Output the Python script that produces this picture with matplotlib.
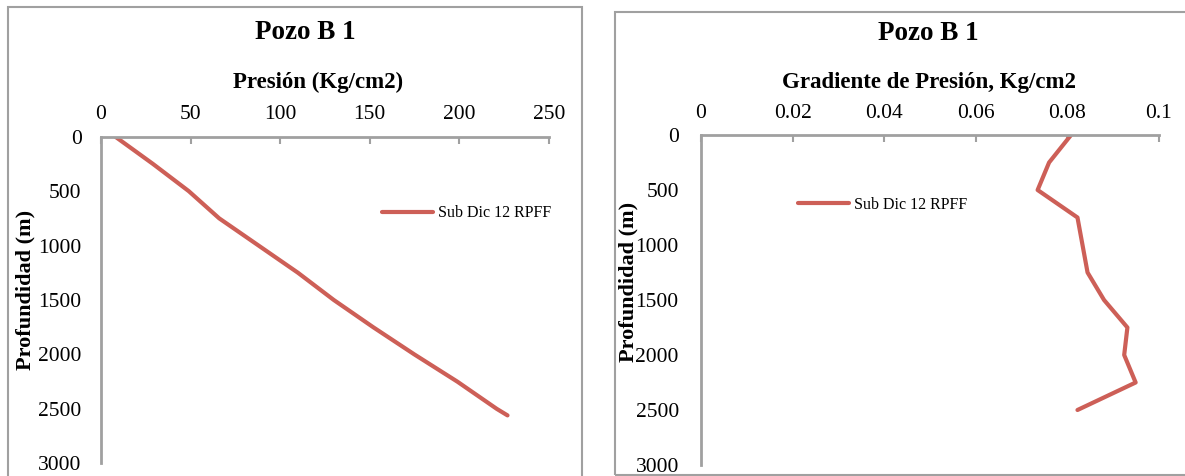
import matplotlib.pyplot as plt
from matplotlib.patches import Rectangle

# Pozo B 1 - pressure profile
depth_p = [0, 250, 500, 750, 1000, 1250, 1500, 1750, 2000, 2250, 2500, 2560]
presion = [8, 29, 49, 66, 88, 110, 130, 152, 175, 199, 221, 227]

# pressure gradient profile
depth_g = [0, 250, 500, 750, 1250, 1500, 1750, 2000, 2250, 2500]
gradiente = [0.0808, 0.0760, 0.0735, 0.0822, 0.0844, 0.0880, 0.0931, 0.0924, 0.0949, 0.0822]

serie = 'Sub Dic 12 RPFF'
titulo = 'Pozo B 1'

red = '#CD5F57'
grey = '#A0A0A0'
plt.rcParams['font.family'] = ['Liberation Serif', 'DejaVu Serif']

W, H = 1185, 476
fig = plt.figure(figsize=(W / 100, H / 100), dpi=100, facecolor='w')

# chart frames (pixel boxes converted to figure fractions)
for x0, y0, x1, y1 in [(8, 7, 582, 490), (615, 12, 1195, 475)]:
    fig.patches.append(Rectangle((x0 / W, 1 - y1 / H), (x1 - x0) / W, (y1 - y0) / H,
                                 transform=fig.transFigure, fill=False,
                                 edgecolor=grey, lw=1.5, zorder=0))


def style(ax):
    ax.set_ylim(3000, 0)
    ax.set_yticks(range(0, 3001, 500))
    ax.xaxis.tick_top()
    ax.xaxis.set_label_position('top')
    for s in ('bottom', 'right'):
        ax.spines[s].set_visible(False)
    for s in ('top', 'left'):
        ax.spines[s].set_color(grey)
        ax.spines[s].set_linewidth(2)
    ax.tick_params(axis='x', direction='in', length=5, color=grey, width=1.5,
                   labelsize=15.5, pad=9)
    ax.tick_params(axis='y', length=0, labelsize=15.5, pad=14)
    ax.xaxis.label.set_va('center')
    ax.yaxis.label.set_va('center')


ax1 = fig.add_axes([101 / W, 1 - 463.3 / H, 447.7 / W, 326.6 / H])
ax1.plot(presion, depth_p, color=red, lw=3, solid_capstyle='round', label=serie)
ax1.set_xlim(0, 250)
ax1.set_xticks(range(0, 251, 50))
ax1.set_xlabel('Presión (Kg/cm2)', fontsize=16.5, fontweight='bold')
ax1.set_ylabel('Profundidad (m)', fontsize=16, fontweight='bold')
style(ax1)
ax1.xaxis.set_label_coords(0.485, 1.167)
ax1.yaxis.set_label_coords(-0.168, 0.53)
ax1.text(0.457, 1.318, titulo, transform=ax1.transAxes, ha='center', va='center',
         fontsize=19.5, fontweight='bold')
ax1.legend(loc='center left', bbox_to_anchor=(0.628, 0.766), frameon=False,
           fontsize=11.5, handlelength=3.2, handletextpad=0.3, borderpad=0,
           borderaxespad=0)

ax2 = fig.add_axes([701 / W, 1 - 465 / H, 458 / W, 330 / H])
ax2.plot(gradiente, depth_g, color=red, lw=3, solid_capstyle='round', label=serie)
ax2.set_xlim(0, 0.1)
ax2.set_xticks([0, 0.02, 0.04, 0.06, 0.08, 0.1])
ax2.set_xticklabels(['0', '0.02', '0.04', '0.06', '0.08', '0.1'])
ax2.set_xlabel('Gradiente de Presión, Kg/cm2', fontsize=16.5, fontweight='bold')
ax2.set_ylabel('Profundidad (m)', fontsize=16, fontweight='bold')
style(ax2)
ax2.xaxis.set_label_coords(0.497, 1.158)
ax2.yaxis.set_label_coords(-0.158, 0.555)
ax2.tick_params(axis='y', pad=16)
ax2.text(0.497, 1.309, titulo, transform=ax2.transAxes, ha='center', va='center',
         fontsize=19.5, fontweight='bold')
ax2.legend(loc='center left', bbox_to_anchor=(0.212, 0.788), frameon=False,
           fontsize=11.5, handlelength=3.2, handletextpad=0.3, borderpad=0,
           borderaxespad=0)

fig.savefig('out.png', dpi=100)
